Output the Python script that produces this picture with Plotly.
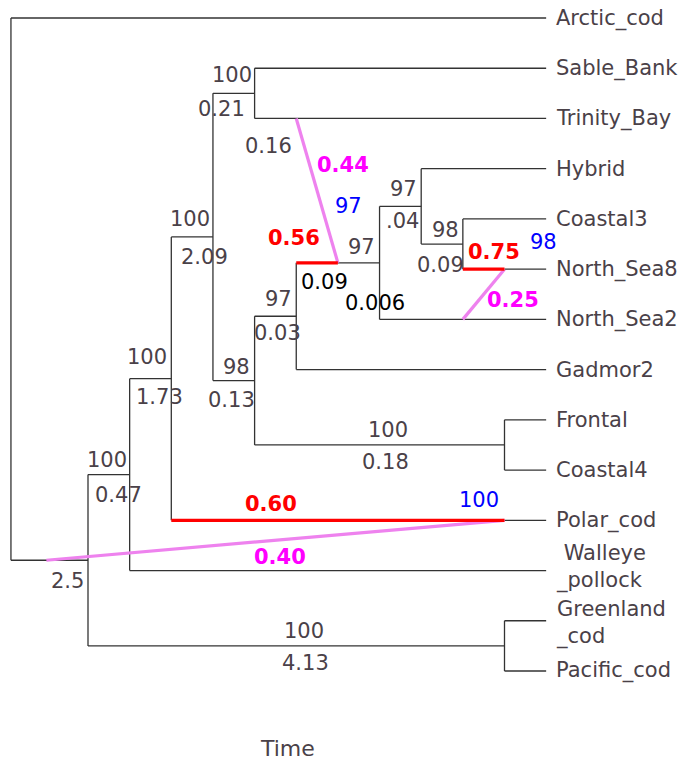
import plotly.graph_objects as go

# ---------------- data ----------------
node_names = ["root", "Arctic_cod", "A", "GP", "Greenland_cod", "Pacific_cod", "B",
              "Walleye_pollock", "C", "Polar_cod", "D", "E", "Sable_Bank", "Trinity_Bay",
              "F", "G", "H", "I", "J", "Hybrid", "K", "Coastal3", "North_Sea8",
              "North_Sea2", "Gadmor2", "L", "Frontal", "Coastal4"]
node_parents = [None, "root", "root", "A", "GP", "GP", "A",
                "B", "B", "C", "C", "D", "E", "E",
                "D", "F", "G", "H", "I", "J", "J", "K", "K",
                "I", "G", "F", "L", "L"]
node_levels = [-1.85, 11, 0, 10, 11, 11, 1,
               11, 2, 10, 3, 4, 11, 11,
               4, 5, 6, 7, 8, 11, 9, 11, 10,
               11, 11, 10, 11, 11]
tip_level = 11

tip_names = ["Arctic_cod", "Sable_Bank", "Trinity_Bay", "Hybrid", "Coastal3", "North_Sea8",
             "North_Sea2", "Gadmor2", "Frontal", "Coastal4", "Polar_cod", "Walleye_pollock",
             "Greenland_cod", "Pacific_cod"]
tip_labels = ["Arctic_cod", "Sable_Bank", "Trinity_Bay", "Hybrid", "Coastal3", "North_Sea8",
              "North_Sea2", "Gadmor2", "Frontal", "Coastal4", "Polar_cod",
              "\u00a0Walleye<br>_pollock", "Greenland<br>_cod", "Pacific_cod"]

hybrid_nodes = ["H", "North_Sea8", "Polar_cod"]
minor_from_edge = ["Trinity_Bay", "North_Sea2", "A"]
minor_from_level = [5, 9, -1]
gamma_major = ["0.56", "0.75", "0.60"]
gamma_minor = ["0.44", "0.25", "0.40"]
minor_support = ["97", "98", "100"]
minor_length = ["0.16", "", ""]

support_nodes = ["E", "D", "C", "B", "G", "F", "I", "J", "K", "L", "GP"]
support_values = ["100", "100", "100", "100", "97", "98", "97", "97", "98", "100", "100"]
length_nodes = ["E", "D", "C", "B", "A", "G", "F", "J", "K", "L", "GP", "H", "I"]
length_values = ["0.21", "2.09", "1.73", "0.47", "2.5", "0.03", "0.13", ".04", "0.09",
                 "0.18", "4.13", "0.09", "0.006"]

# ---------------- style ----------------
W, H_ = 682, 762
X0_PX, X_STEP = 88, 41.65
Y0_PX, Y_STEP = 18, 50.23
FONT = "DejaVu Sans"
TXT = "#4a4148"
LINE = "#333333"
FS = 21

sup_off = {"E": (-23, -18), "D": (-23, -18), "C": (-24, -22), "B": (-23, -15),
           "G": (-18, -17), "F": (-18, -14), "I": (-18, -16), "J": (-18, -17),
           "K": (-17, -14), "L": (-117, -15), "GP": (-201, -15)}
len_off = {"E": (-33, 16), "D": (-8, 20), "C": (-12, 18), "B": (-11, 20), "A": (-21, 21),
           "G": (-19, 17), "F": (-23, 19), "J": (-19, 15), "K": (-22, 21),
           "L": (-119, 17), "GP": (-199, 17), "H": (-13, 19), "I": (-5, 40)}
len_color = {"H": "#000000", "I": "#000000"}
hyb_off = {
    "H": {"maj": (-44, -25), "min": (5, -98), "sup": (11, -57), "len": (-69, -117)},
    "North_Sea8": {"maj": (-11, -17), "min": (8, 31), "sup": (39, -27), "len": (0, 0)},
    "Polar_cod": {"maj": (-234, -16), "min": (-225, 37), "sup": (-26, -20), "len": (0, 0)},
}
tip_shift = {"Walleye_pollock": 4, "Greenland_cod": -2}

# ---------------- tree layout ----------------
parent = dict(zip(node_names, node_parents))
level = dict(zip(node_names, node_levels))
children = {n: [] for n in node_names}
for n, p in zip(node_names, node_parents):
    if p is not None:
        children[p].append(n)

ypos = {}


def get_y(n):
    if n in ypos:
        return ypos[n]
    if n in tip_names:
        ypos[n] = float(tip_names.index(n))
    else:
        ys = [get_y(c) for c in children[n]]
        ypos[n] = sum(ys) / len(ys)
    return ypos[n]


for n in node_names:
    get_y(n)

bx, by, rx, ry, vx, vy = [], [], [], [], [], []
for n in node_names:
    kids = children[n]
    if kids:
        ys = [ypos[c] for c in kids] + [ypos[n]]
        bx += [level[n], level[n], None]
        by += [min(ys), max(ys), None]
    p = parent[n]
    if p is not None:
        if n in hybrid_nodes:
            rx += [level[p], level[n], None]
            ry += [ypos[n], ypos[n], None]
        else:
            bx += [level[p], level[n], None]
            by += [ypos[n], ypos[n], None]
    if n in tip_names and level[n] < tip_level:
        bx += [level[n], tip_level, None]
        by += [ypos[n], ypos[n], None]

for hn, src, sl in zip(hybrid_nodes, minor_from_edge, minor_from_level):
    vx += [sl, level[hn], None]
    vy += [ypos[src], ypos[hn], None]

fig = go.Figure()
fig.add_trace(go.Scatter(x=bx, y=by, mode="lines", line=dict(color=LINE, width=1.3),
                         hoverinfo="skip", showlegend=False))
fig.add_trace(go.Scatter(x=vx, y=vy, mode="lines", line=dict(color="violet", width=3.2),
                         hoverinfo="skip", showlegend=False))
fig.add_trace(go.Scatter(x=rx, y=ry, mode="lines", line=dict(color="#ff0000", width=3.2),
                         hoverinfo="skip", showlegend=False))

ann = []


def add(text, x, y, off, color=TXT, bold=False, size=FS):
    ann.append(dict(x=x, y=y, xref="x", yref="y", text=f"<b>{text}</b>" if bold else text,
                    showarrow=False, xshift=off[0], yshift=-off[1],
                    xanchor="center", yanchor="middle",
                    font=dict(family=FONT, size=size, color=color)))


for name, lab in zip(tip_names, tip_labels):
    ann.append(dict(x=tip_level, y=ypos[name], xref="x", yref="y", text=lab, showarrow=False,
                    xshift=8, yshift=tip_shift.get(name, 0), xanchor="left", yanchor="middle",
                    align="left", font=dict(family=FONT, size=FS, color=TXT)))

for n, v in zip(support_nodes, support_values):
    add(v, level[n], ypos[n], sup_off[n])
for n, v in zip(length_nodes, length_values):
    add(v, level[n], ypos[n], len_off[n], color=len_color.get(n, TXT))

for hn, gM, gm, s, ml in zip(hybrid_nodes, gamma_major, gamma_minor, minor_support, minor_length):
    o = hyb_off[hn]
    add(gM, level[hn], ypos[hn], o["maj"], color="#ff0000", bold=True, size=21)
    add(gm, level[hn], ypos[hn], o["min"], color="#ff00ff", bold=True, size=21)
    add(s, level[hn], ypos[hn], o["sup"], color="#0000ff")
    if ml:
        add(ml, level[hn], ypos[hn], o["len"])

ann.append(dict(x=287 / W, y=1 - 748 / H_, xref="paper", yref="paper", text="Time",
                showarrow=False, xanchor="center", yanchor="middle", borderpad=0,
                font=dict(family=FONT, size=22, color=TXT)))

x_lo = (0 - X0_PX) / X_STEP
x_hi = (W - X0_PX) / X_STEP
y_top = (0 - Y0_PX) / Y_STEP
y_bot = (H_ - Y0_PX) / Y_STEP

fig.update_layout(
    width=W, height=H_, margin=dict(l=0, r=0, t=0, b=0),
    paper_bgcolor="white", plot_bgcolor="white",
    xaxis=dict(range=[x_lo, x_hi], visible=False, fixedrange=True),
    yaxis=dict(range=[y_bot, y_top], visible=False, fixedrange=True),
    annotations=ann, showlegend=False,
)

fig.write_html("out.html", config={"displayModeBar": False},
               post_script="document.body.style.margin='0';document.body.style.overflow='hidden';")
